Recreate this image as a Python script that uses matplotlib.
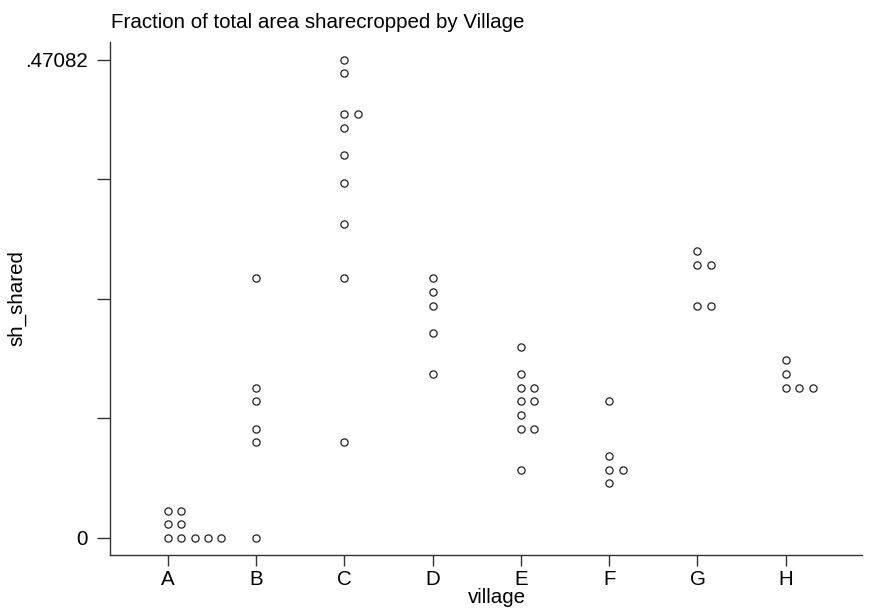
import numpy as np
import matplotlib.pyplot as plt

plt.rcParams['font.family'] = ['Liberation Sans', 'DejaVu Sans']

villages = ['A', 'B', 'C', 'D', 'E', 'F', 'G', 'H']

# sh_shared values by village
sh_A = [0, 0, 0, 0, 0, 0.01345, 0.01345, 0.02690, 0.02690]
sh_B = [0, 0.09416, 0.10762, 0.13452, 0.14797, 0.25559]
sh_C = [0.09416, 0.25559, 0.30940, 0.34975, 0.37666, 0.40356,
        0.41701, 0.41701, 0.45737, 0.47082]
sh_D = [0.16142, 0.20178, 0.22868, 0.24214, 0.25559]
sh_E = [0.06726, 0.10762, 0.10762, 0.12107, 0.13452, 0.13452,
        0.14797, 0.14797, 0.16142, 0.18833]
sh_F = [0.05381, 0.06726, 0.06726, 0.08071, 0.13452]
sh_G = [0.22868, 0.22868, 0.26904, 0.26904, 0.28249]
sh_H = [0.14797, 0.14797, 0.14797, 0.16142, 0.17488]

ymax = 0.47082
ny = 35  # number of bins on y, like Stata's dotplot default
dot_step = 0.152  # horizontal spacing of stacked dots in category units
FS = 14.8

fig = plt.figure(figsize=(8.77, 6.08), dpi=100)
ax = fig.add_axes([0.1254, 0.0872, 0.8575, 0.8438])

for i, vals in enumerate([sh_A, sh_B, sh_C, sh_D, sh_E, sh_F, sh_G, sh_H]):
    bins = np.round(np.array(vals) / ymax * ny).astype(int)
    xs, ys = [], []
    for b in np.unique(bins):
        k = np.sum(bins == b)
        for j in range(k):
            xs.append(i + 1 + j * dot_step)
            ys.append(b * ymax / ny)
    ax.plot(xs, ys, 'o', ls='none', ms=5.2, mfc='white', mec='#222222', mew=0.9)

ax.set_xlim(0.3466, 8.863)
ax.set_ylim(-0.01673, 0.4882)

ax.set_xticks(range(1, 9))
ax.set_xticklabels(villages)
yt = np.linspace(0, ymax, 5)
ax.set_yticks(yt)
ax.set_yticklabels(['0', '', '', '', '.47082'])

for s in ['top', 'right']:
    ax.spines[s].set_visible(False)
for s in ['left', 'bottom']:
    ax.spines[s].set_linewidth(1.0)
    ax.spines[s].set_color('#333333')

ax.tick_params(axis='y', length=9.5, width=1.0, color='#333333', pad=6.5, labelsize=FS)
ax.tick_params(axis='x', length=8, width=1.0, color='#333333', pad=3, labelsize=FS)

ax.set_xlabel('village', fontsize=FS, va='baseline')
ax.xaxis.set_label_coords(0.5146, -0.0936)
ax.set_ylabel('sh_shared', fontsize=FS, va='center')
ax.yaxis.set_label_coords(-0.1237, 0.5)
fig.text(111 / 877, 1 - 28 / 608, 'Fraction of total area sharecropped by Village',
         fontsize=FS, ha='left', va='baseline')

fig.savefig('out.png', dpi=100)
